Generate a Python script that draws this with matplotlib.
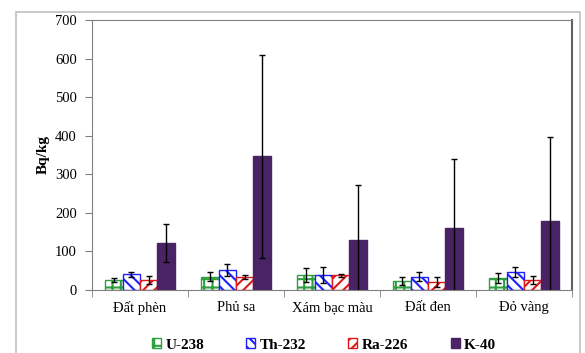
import matplotlib
matplotlib.use("Agg")
import matplotlib.pyplot as plt
import numpy as np
from matplotlib.patches import Rectangle

categories = ["Đất phèn", "Phủ sa", "Xám bạc màu", "Đất đen", "Đỏ vàng"]
series_names = ["U-238", "Th-232", "Ra-226", "K-40"]
u238 = [26, 35, 39, 23, 30]
u238_err = [6, 12, 17, 11, 13]
th232 = [41, 52, 39, 35, 46]
th232_err = [6, 15, 21, 12, 13]
ra226 = [26, 34, 38, 21, 26]
ra226_err = [10, 5, 3, 14, 10]
k40 = [122, 347, 130, 160, 178]
k40_err = [50, 263, 142, 180, 218]
yticks = [0, 100, 200, 300, 400, 500, 600, 700]

plt.rcParams['font.family'] = ['Liberation Serif', 'DejaVu Serif']
plt.rcParams['hatch.linewidth'] = 1.5

fig = plt.figure(figsize=(5.85, 3.53), dpi=100)
# outer frame
fig.patches.append(Rectangle((16/585, -0.05), (580-16)/585, 1 - 12/353 + 0.05,
                             transform=fig.transFigure, fill=False,
                             edgecolor='#bfbfbf', linewidth=1.2))
ax = fig.add_axes([92/585, 1-290/353, (572-92)/585, (290-20)/353])

x = np.arange(len(categories))
w = 0.18
styles = [
    dict(facecolor='white', edgecolor='#2e9e3e', hatch='++'),
    dict(facecolor='white', edgecolor='#1f1fff', hatch='\\\\\\'),
    dict(facecolor='white', edgecolor='#e01818', hatch='///'),
    dict(facecolor='#4a2366', edgecolor='#4a2366', hatch=None),
]
data = [(u238, u238_err), (th232, th232_err), (ra226, ra226_err), (k40, k40_err)]
for i, ((vals, errs), st, name) in enumerate(zip(data, styles, series_names)):
    pos = x + (i - 1.5) * w
    ax.bar(pos, vals, width=w, label=name, linewidth=1.0, **st)
    ax.errorbar(pos, vals, yerr=errs, fmt='none', ecolor='black',
                elinewidth=1.0, capsize=2.5, capthick=1.0)

ax.set_ylim(0, 700)
ax.set_yticks(yticks)
ax.set_xlim(-0.5, len(categories) - 0.5)
ax.set_xticks(x)
ax.set_xticklabels(categories, fontsize=10.5)
ax.set_xticks(np.arange(len(categories) + 1) - 0.5, minor=True)
ax.tick_params(axis='x', which='major', length=0, pad=8)
ax.tick_params(axis='x', which='minor', length=5, direction='out', color='#808080')
ax.tick_params(axis='y', length=5, direction='out', color='#808080', labelsize=10.5, pad=6)
for s in ax.spines.values():
    s.set_color('#808080')
ax.spines['right'].set_color('#606060')
ax.spines['right'].set_linewidth(1.5)
ax.set_ylabel("Bq/kg", fontsize=11, fontweight='bold', labelpad=4)

leg = fig.legend(loc='center', bbox_to_anchor=(324/585, 1-345/353), ncol=4,
                 frameon=False, prop={'weight': 'bold', 'size': 11},
                 handlelength=0.6, handleheight=0.6, handletextpad=0.3,
                 columnspacing=2.75, borderaxespad=0)
fig.savefig("out.png", dpi=100)
